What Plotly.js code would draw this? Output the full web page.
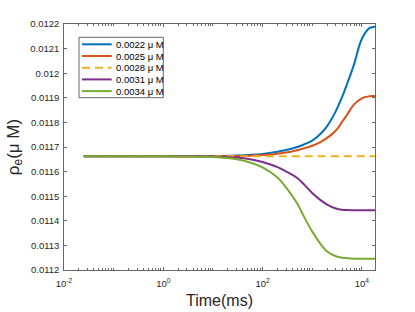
<!DOCTYPE html>
<html><head><meta charset="utf-8">
<script src="https://cdn.plot.ly/plotly-3.0.1.min.js"></script>
<style>html,body{margin:0;padding:0;background:#fff}#chart{width:415px;height:312px}</style>
</head><body><div id="chart"></div>
<script>
// ---- data ----
const time = [0.025, 0.1, 1, 10, 30, 60, 100, 200, 300, 500, 700, 1000, 1500, 2000, 3000, 4000, 5000, 7000, 10000, 14000, 18500];
const rho_0022 = [0.011662, 0.011662, 0.011662, 0.011663, 0.011665, 0.011668, 0.011672, 0.011681, 0.011688, 0.011700, 0.011711, 0.011726, 0.011755, 0.011785, 0.011846, 0.011903, 0.011954, 0.012037, 0.012139, 0.012182, 0.012189];
const rho_0025 = [0.011662, 0.011662, 0.011662, 0.011662, 0.011663, 0.011665, 0.011667, 0.011673, 0.011678, 0.011687, 0.011695, 0.011705, 0.011721, 0.011737, 0.011767, 0.011802, 0.011830, 0.011873, 0.011898, 0.011906, 0.011907];
const rho_0028 = [0.011662, 0.011662, 0.011662, 0.011662, 0.011662, 0.011662, 0.011662, 0.011662, 0.011662, 0.011662, 0.011662, 0.011662, 0.011662, 0.011662, 0.011662, 0.011662, 0.011662, 0.011662, 0.011662, 0.011662, 0.011662];
const rho_0031 = [0.011662, 0.011662, 0.011662, 0.011661, 0.011657, 0.011649, 0.011639, 0.011618, 0.011600, 0.011574, 0.011546, 0.011513, 0.011483, 0.011466, 0.011450, 0.011445, 0.011444, 0.011443, 0.011443, 0.011443, 0.011443];
const rho_0034 = [0.011662, 0.011662, 0.011662, 0.011659, 0.011650, 0.011635, 0.011617, 0.011576, 0.011535, 0.011470, 0.011413, 0.011357, 0.011304, 0.011275, 0.011256, 0.011250, 0.011248, 0.011246, 0.011246, 0.011246, 0.011246];
const seriesNames = ['0.0022 μ M', '0.0025 μ M', '0.0028 μ M', '0.0031 μ M', '0.0034 μ M'];
const seriesColors = ['#0072BD', '#D95319', '#EDB120', '#7E2F8E', '#77AC30'];
const seriesDash = ['solid', 'solid', '8px,5px', 'solid', 'solid'];
const yTickVals = [0.0112, 0.0113, 0.0114, 0.0115, 0.0116, 0.0117, 0.0118, 0.0119, 0.012, 0.0121, 0.0122];
const yTickText = ['0.0112', '0.0113', '0.0114', '0.0115', '0.0116', '0.0117', '0.0118', '0.0119', '0.012', '0.0121', '0.0122'];
const xTickVals = [0.01, 1, 100, 10000];
const xTickText = ['10<sup>-2</sup>', '10<sup>0</sup>', '10<sup>2</sup>', '10<sup>4</sup>'];

const seriesY = [rho_0022, rho_0025, rho_0028, rho_0031, rho_0034];

// ---- layout geometry (pixels) ----
const W = 415, H = 312;
const L = 64, R = 375, T = 24, B = 270;
const px = x => (x - L) / (R - L);
const py = y => (B - y) / (B - T);
const axisColor = '#262626';
const font = 'Liberation Sans, Arial, Helvetica, sans-serif';

const traces = seriesY.map((ys, i) => ({
  x: time, y: ys, type: 'scatter', mode: 'lines', name: seriesNames[i],
  line: {color: seriesColors[i], width: 2, dash: seriesDash[i], shape: 'spline', smoothing: 1.1},
  showlegend: false, hoverinfo: 'skip'
}));

// minor ticks on log axis
const minorVals = [];
for (let k = -2; k <= 4; k++) {
  for (let m = 1; m <= 9; m++) {
    const v = m * Math.pow(10, k);
    if (!(m === 1 && (k % 2 === 0))) minorVals.push(v);
  }
}

// manual legend (MATLAB-style compact box)
const legRows = [44.3, 56, 67.7, 79.4, 91.1];
const shapes = [{
  type: 'rect', xref: 'paper', yref: 'paper',
  x0: px(79), x1: px(163.3), y0: py(97.7), y1: py(37.3),
  line: {color: axisColor, width: 0.7}, fillcolor: '#ffffff', layer: 'above'
}];
const annotations = [];
seriesNames.forEach((nm, i) => {
  shapes.push({
    type: 'line', xref: 'paper', yref: 'paper',
    x0: px(82), x1: px(111.7), y0: py(legRows[i]), y1: py(legRows[i]),
    line: {color: seriesColors[i], width: 2, dash: seriesDash[i]}, layer: 'above'
  });
  annotations.push({
    xref: 'paper', yref: 'paper', x: px(113.5), y: py(legRows[i]),
    xanchor: 'left', yanchor: 'middle', showarrow: false, text: nm,
    font: {family: font, size: 9.5, color: '#000000'}
  });
});

const layout = {
  width: W, height: H,
  margin: {l: L, r: W - R, t: T, b: H - B, pad: 0},
  paper_bgcolor: '#ffffff', plot_bgcolor: '#ffffff',
  font: {family: font, color: axisColor},
  showlegend: false,
  xaxis: {
    type: 'log', range: [-2, Math.log10(18450)],
    showline: true, mirror: 'ticks', linecolor: axisColor, linewidth: 0.7,
    ticks: 'inside', ticklen: 3, tickwidth: 0.7, tickcolor: axisColor,
    tickmode: 'array', tickvals: xTickVals, ticktext: xTickText,
    tickfont: {family: font, size: 9.5, color: axisColor}, ticklabelstandoff: 5,
    minor: {tickmode: 'array', tickvals: minorVals, ticks: 'inside', ticklen: 2, tickwidth: 0.7, tickcolor: axisColor, showgrid: false},
    showgrid: false, zeroline: false,
    title: {text: 'Time(ms)', font: {family: font, size: 16, color: axisColor}, standoff: 6}
  },
  yaxis: {
    range: [0.0112, 0.0122],
    showline: true, mirror: 'ticks', linecolor: axisColor, linewidth: 0.7,
    ticks: 'inside', ticklen: 3, tickwidth: 0.7, tickcolor: axisColor,
    tickmode: 'array', tickvals: yTickVals, ticktext: yTickText,
    tickfont: {family: font, size: 9.5, color: axisColor}, ticklabelstandoff: 2,
    showgrid: false, zeroline: false,
    title: {text: 'ρ<sub>e</sub>(μ M)', font: {family: font, size: 17, color: axisColor}, standoff: 6}
  },
  shapes: shapes,
  annotations: annotations
};

Plotly.newPlot('chart', traces, layout, {displayModeBar: false, staticPlot: true});
</script>
</body></html>
